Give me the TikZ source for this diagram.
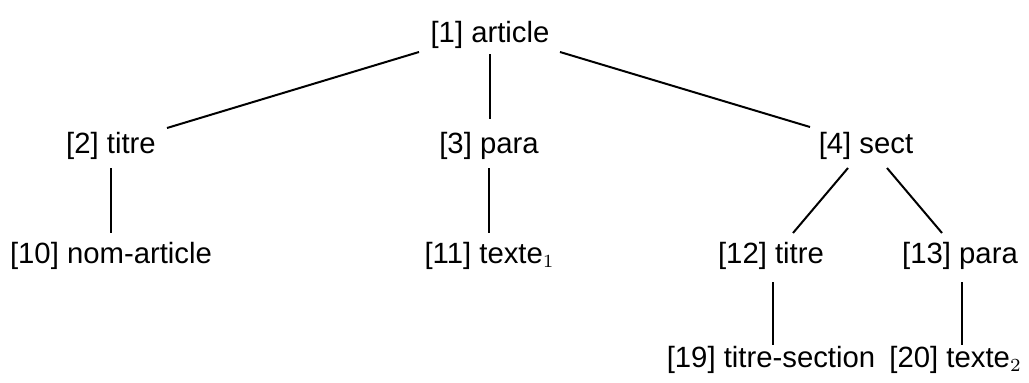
\documentclass[tikz,border=0pt]{standalone}
\usepackage{fontspec}
\setmainfont{Liberation Sans}
\newfontfamily\lmsub{lmroman7-regular.otf}
\newcommand{\mysub}[1]{\raisebox{-4.5pt}{\lmsub\fontsize{18.5}{19}\selectfont #1}}
\begin{document}
\begin{tikzpicture}[x=1pt,y=-1pt,
  lbl/.style={inner sep=0pt,anchor=base,font=\fontsize{29.3}{35}\selectfont},
  edge/.style={line width=2pt}]
\useasboundingbox (0,0) rectangle (1029,383);
\node[lbl] (n1) at (490,42) {[1] article};
\node[lbl] (n2) at (111,153) {[2] titre};
\node[lbl] (n3) at (489,153) {[3] para};
\node[lbl] (n4) at (866,153) {[4] sect};
\node[lbl] (n10) at (111,263) {[10] nom-article};
\node[lbl] (n11) at (489,263) {[11] texte\mysub{1}};
\node[lbl] (n12) at (771,263) {[12] titre};
\node[lbl] (n13) at (960,263) {[13] para};
\node[lbl] (n19) at (771,367) {[19] titre-section};
\node[lbl] (n20) at (955,367) {[20] texte\mysub{2}};
\draw[edge] ([shift={(-71,10)}]n1.base) -- ([shift={(56,-25)}]n2.base);
\draw[edge] ([shift={(0,12)}]n1.base) -- ([shift={(0,-34)}]n1.base |- n3.base);
\draw[edge] ([shift={(70,10)}]n1.base) -- ([shift={(-56,-26)}]n4.base);
\draw[edge] ([shift={(0,15)}]n2.base) -- ([shift={(0,-30)}]n10.base);
\draw[edge] ([shift={(0,15)}]n3.base) -- ([shift={(0,-30)}]n11.base);
\draw[edge] ([shift={(-18,15)}]n4.base) -- ([shift={(22,-30)}]n12.base);
\draw[edge] ([shift={(21,15)}]n4.base) -- ([shift={(-18,-30)}]n13.base);
\draw[edge] ([shift={(2,19)}]n12.base) -- ([shift={(2,-22)}]n19.base);
\draw[edge] ([shift={(2,19)}]n13.base) -- ([shift={(7,-22)}]n20.base);
\end{tikzpicture}
\end{document}
